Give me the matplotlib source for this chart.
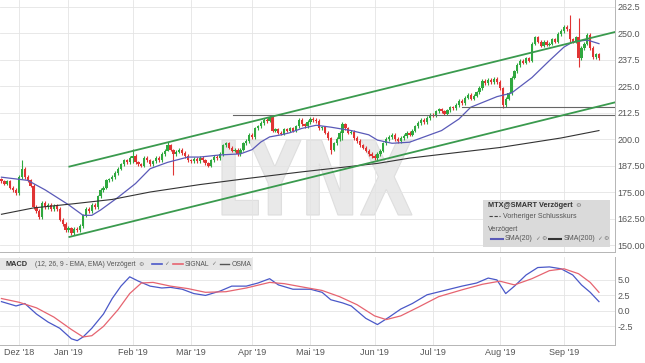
import numpy as np
import pandas as pd
import matplotlib
matplotlib.use("Agg")
import matplotlib.pyplot as plt
from matplotlib.patches import Rectangle, PathPatch
from matplotlib.textpath import TextPath
from matplotlib.font_manager import FontProperties
from matplotlib.transforms import Affine2D
from matplotlib.lines import Line2D

plt.rcParams['font.family'] = ['Liberation Sans', 'DejaVu Sans']

# daily closes, 23.11.2018 - 18.09.2019
closes = [
    180, 179, 180, 177, 176, 174.5, 182, 186, 182, 180.5,
    178, 168, 166, 163, 170, 168, 169, 167, 168.5, 167,
    162, 160, 157, 158, 155.5, 157.5, 157, 159, 164, 167,
    166, 169, 168, 173, 176, 177, 180.5, 181, 182, 184,
    186, 188, 190, 189, 191, 192, 189, 188, 187.5, 191,
    190, 188, 189.5, 191, 190, 193, 194.5, 197, 195, 193,
    194, 195, 193.5, 192, 190, 189.5, 190.5, 189.5, 191, 190,
    188.5, 187.5, 190, 191.5, 191, 193, 197, 198, 196, 194.5,
    195, 193, 195, 198, 199, 202, 201, 205, 206, 207.5,
    209, 208.5, 210.5, 204, 204.5, 203, 202.5, 204.5, 204, 205,
    204, 206, 209, 207, 206, 208, 209.5, 209, 208.5, 205,
    205.5, 203, 200.5, 195, 198, 200, 203, 207, 205, 203,
    203.5, 200.5, 199, 197, 196, 194.5, 193, 192, 191, 193,
    194.5, 198, 200, 201, 202, 200, 199, 200.5, 201.5, 203,
    202, 204, 206, 207.5, 209, 208, 210, 211.5, 211, 213,
    214, 213, 212, 213.5, 215, 214.5, 216, 218, 217, 219.5,
    221, 219, 220.5, 222, 224, 227.5, 226.5, 228, 227, 228.5,
    227, 224, 216, 219, 221.5, 229, 232, 235, 237, 236,
    238, 237, 245, 248, 246, 244, 246, 244.5, 245, 247,
    246, 249.5, 251, 253, 252, 247, 246, 248, 238, 243,
    245, 249, 243, 238.5, 240, 238,
]
first_open = 181

# candles with long wicks
wick_days = [7, 24, 45, 57, 59, 92, 113, 117, 172, 195, 198]
wick_highs = [190, 158.5, 195.5, 198.5, 195.5, 211.5, 201, 208, 224.5, 258.5, 257]
wick_lows = [181, 154.5, 188.5, 194.5, 183, 208, 193, 199.5, 214.5, 245.5, 234]

sma20_days = [0, 9, 15, 23, 28, 31, 34, 40, 46, 51, 57, 64, 68, 75, 82, 86, 89, 92,
              96, 99, 103, 108, 113, 120, 126, 129, 134, 140, 151, 157, 161, 170,
              175, 182, 188, 193, 196, 201, 205]
sma20_vals = [182, 180.5, 176, 169, 164, 164, 166.5, 172.5, 179, 186, 189, 191.5, 191.5,
              192.5, 193, 195, 198.6, 201, 202, 203, 205, 206.5, 205.6, 204, 202, 199.5,
              198, 198.5, 204, 209.5, 215, 220, 221.7, 229, 237, 243.4, 245.8, 246.7, 245]

sma200_days = [0, 11, 25, 38, 51, 68, 85, 103, 129, 140, 171, 192, 205]
sma200_vals = [164.5, 167.5, 169.5, 171.5, 175, 178.5, 181.5, 184.5, 188.5, 191, 196, 200.5, 204]

macd_days = [0, 5, 8, 12, 16, 20, 24, 26, 28, 31, 35, 38, 41, 44, 47, 51, 55, 58, 62, 66,
             70, 75, 79, 84, 88, 92, 95, 100, 106, 110, 113, 117, 120, 125, 129, 133,
             137, 141, 146, 152, 158, 163, 167, 170, 173, 176, 180, 184, 188, 192, 196,
             199, 202, 205]
macd_vals = [1.5, 0.8, 1.2, -0.5, -1.8, -2.8, -4.5, -4.8, -4.2, -2.8, -0.5, 2, 4, 5.5, 4.8,
             4, 3.7, 3.8, 3.5, 2.8, 2.5, 3.2, 4, 4, 4.5, 5.2, 4.2, 3.5, 3.5, 3.0, 1.8, 1.3,
             0.8, -1.2, -2.2, -1.0, 0.3, 1.2, 2.6, 3.3, 4.0, 4.5, 5.3, 5.0, 2.8, 4.0, 5.8,
             7.0, 7.1, 6.8, 5.8, 4.2, 3.0, 1.5]

signal_days = [0, 6, 12, 18, 24, 28, 31, 35, 40, 44, 48, 52, 58, 64, 70, 77, 84, 92, 97,
               104, 110, 116, 122, 128, 132, 137, 143, 150, 158, 165, 171, 176, 182, 188,
               193, 198, 202, 205]
signal_vals = [2.0, 1.4, 0.5, -1.0, -3.0, -4.2, -4.0, -2.5, 0.2, 2.8, 4.5, 4.6, 4.0, 3.6,
               3.0, 3.1, 3.7, 4.6, 4.4, 3.8, 3.3, 2.3, 1.0, -0.8, -1.4, -0.8, 0.6, 2.3, 3.4,
               4.3, 4.8, 4.2, 5.2, 6.5, 6.8, 6.0, 4.6, 3.0]

# drawn trend channel and support levels
channel_x = [23.3, 210.5]
upper_channel = [187, 250.5]
lower_channel = [153.8, 217.3]
level_prices = [211.3, 215]
level_start = [79.5, 158]

month_labels = ["Dez '18", "Jan '19", "Feb '19", "Mär '19", "Apr '19", "Mai '19",
                "Jun '19", "Jul '19", "Aug '19", "Sep '19"]
holidays = ['2018-12-24', '2018-12-25', '2018-12-26', '2018-12-31', '2019-01-01',
            '2019-04-19', '2019-04-22', '2019-05-01']

dates = pd.bdate_range('2018-11-23', '2019-09-18')
dates = dates[~dates.isin(pd.to_datetime(holidays))][:len(closes)]
per = dates.to_period('M')
month_first = [i for i in range(1, len(dates)) if per[i] != per[i - 1]]

W, H = 645, 363
def fx(x):
    return x / W
def fy(y):
    return 1 - y / H

GREEN = '#2fa83f'
RED = '#e03434'
GRID = '#e4e4e4'
TXT = '#555555'

fig = plt.figure(figsize=(W / 100, H / 100), dpi=100)
ax = fig.add_axes([0, fy(252), fx(615), (252) / H])
axm = fig.add_axes([0, fy(345), fx(615), (345 - 257) / H], sharex=ax)

n = len(closes)
idx = np.arange(n)
c = np.array(closes, dtype=float)
o = np.concatenate([[first_open], c[:-1]])
hi = np.maximum(o, c) + 0.8
lo = np.minimum(o, c) - 0.8
for d, h, l in zip(wick_days, wick_highs, wick_lows):
    hi[d] = h
    lo[d] = l
cols = np.where(c >= o, GREEN, RED)

# watermark
tp = TextPath((0, 0), "LYNX", prop=FontProperties(family='DejaVu Sans', weight='bold'))
bb = tp.get_extents()
tr = (Affine2D().translate(-bb.x0, -bb.y0)
      .scale((fx(412) - fx(222)) / bb.width, (fy(140) - fy(215)) / bb.height)
      .translate(fx(222), fy(215)) + fig.transFigure)
ax.add_patch(PathPatch(tp, transform=tr, facecolor='#e9e9e9', edgecolor='#dedede',
                       lw=0.8, zorder=0.5, clip_on=False))

ax.vlines(idx, lo, hi, colors=cols, lw=0.8, zorder=3)
body = np.maximum(np.abs(c - o), 0.4)
ax.bar(idx, body, bottom=np.minimum(o, c), width=0.78, color=cols, zorder=3)

ax.plot(sma20_days, sma20_vals, color='#5a5ab8', lw=0.9, zorder=4)
ax.plot(sma200_days, sma200_vals, color='#333333', lw=0.8, zorder=4)
ax.plot(channel_x, upper_channel, color='#3a9a4e', lw=1.3, zorder=5)
ax.plot(channel_x, lower_channel, color='#3a9a4e', lw=1.3, zorder=5)
for p, s in zip(level_prices, level_start):
    ax.plot([s, channel_x[1]], [p, p], color='#666666', lw=0.8, zorder=4)

ax.set_ylim(146.7, 265.6)
ax.set_xlim(-0.5, 210.5)
yt = np.arange(150, 263, 12.5)
ax.set_yticks(yt)
ax.set_yticklabels([f"{v:.2f}" if v < 200 else f"{v:.1f}" for v in yt])

axm.plot(macd_days, macd_vals, color='#4a58c8', lw=0.9, zorder=3)
axm.plot(signal_days, signal_vals, color='#e66470', lw=0.9, zorder=3)
axm.set_ylim(-5.5, 8.7)
axm.set_yticks([-2.5, 0, 2.5, 5])
axm.set_yticklabels(["-2.5", "0.0", "2.5", "5.0"])
axm.set_xticks(month_first)
axm.set_xticklabels(month_labels)

for a in (ax, axm):
    a.yaxis.tick_right()
    a.grid(True, color=GRID, lw=0.6)
    a.set_axisbelow(True)
    a.tick_params(axis='both', length=0, labelsize=6.5, labelcolor=TXT, pad=2)
    for s in ('left', 'top'):
        a.spines[s].set_visible(False)
    for s in ('right', 'bottom'):
        a.spines[s].set_color('#b5b5b5')
        a.spines[s].set_linewidth(0.7)
ax.tick_params(axis='x', labelbottom=False)

renderer = fig.canvas.get_renderer()


def row(x, y, items):
    # items: ('t', text, size, bold, color) or ('l', length, color, lw, ls) or ('g', gap)
    for it in items:
        if it[0] == 't':
            _, s, size, bold, color = it
            t = fig.text(fx(x), fy(y), s, fontsize=size, weight='bold' if bold else 'normal',
                         color=color, va='center', ha='left')
            x += t.get_window_extent(renderer).width
        elif it[0] == 'l':
            _, length, color, lw, ls = it
            fig.add_artist(Line2D([fx(x), fx(x + length)], [fy(y), fy(y)],
                                  transform=fig.transFigure, color=color, lw=lw, ls=ls))
            x += length
        else:
            x += it[1]
    return x


GRAY = '#555555'
ICON = '#777777'

# main legend box
fig.add_artist(Rectangle((fx(483), fy(247)), fx(610) - fx(483), fy(200) - fy(247),
                         transform=fig.transFigure, facecolor='#dadada', edgecolor='none'))
row(488, 206, [('t', "MTX@SMART Verzögert", 5.3, True, '#333333'), ('g', 3),
               ('t', "⚙", 4.6, False, ICON)])
row(489, 216, [('l', 11, '#444444', 0.8, (0, (3, 1.5))), ('g', 3),
               ('t', "Vorheriger Schlusskurs", 5.1, False, GRAY)])
row(488, 229, [('t', "Verzögert", 5.1, False, GRAY)])
row(491, 239, [('l', 12, '#5a5ab8', 1.5, '-'), ('g', 2),
               ('t', "SMA(20)", 5.0, False, GRAY), ('g', 2),
               ('t', "✓", 4.2, False, ICON), ('g', 2),
               ('t', "⚙", 4.4, False, ICON), ('g', 2),
               ('l', 12, '#333333', 1.5, '-'), ('g', 2),
               ('t', "SMA(200)", 5.0, False, GRAY), ('g', 2),
               ('t', "✓", 4.2, False, ICON), ('g', 2),
               ('t', "⚙", 4.4, False, ICON)])

# MACD legend bar
fig.add_artist(Rectangle((fx(0), fy(270)), fx(252), fy(258) - fy(270),
                         transform=fig.transFigure, facecolor='#e6e6e6', edgecolor='none'))
row(5, 264, [('t', "MACD", 5.3, True, '#333333'), ('g', 8),
             ('t', "(12, 26, 9 - EMA, EMA) Verzögert", 4.9, False, GRAY), ('g', 3),
             ('t', "⚙", 4.4, False, ICON), ('g', 8),
             ('l', 10, '#4a58c8', 1.2, '-'), ('g', 2),
             ('t', "✓", 4.2, False, ICON), ('g', 4),
             ('l', 10, '#e66470', 1.2, '-'), ('g', 2),
             ('t', "SIGNAL", 4.9, False, GRAY), ('g', 2),
             ('t', "✓", 4.2, False, ICON), ('g', 4),
             ('l', 9, '#555555', 1.0, '-'), ('g', 2),
             ('t', "OSMA", 4.9, False, GRAY)])

fig.savefig("out.png", dpi=100, facecolor='white')
